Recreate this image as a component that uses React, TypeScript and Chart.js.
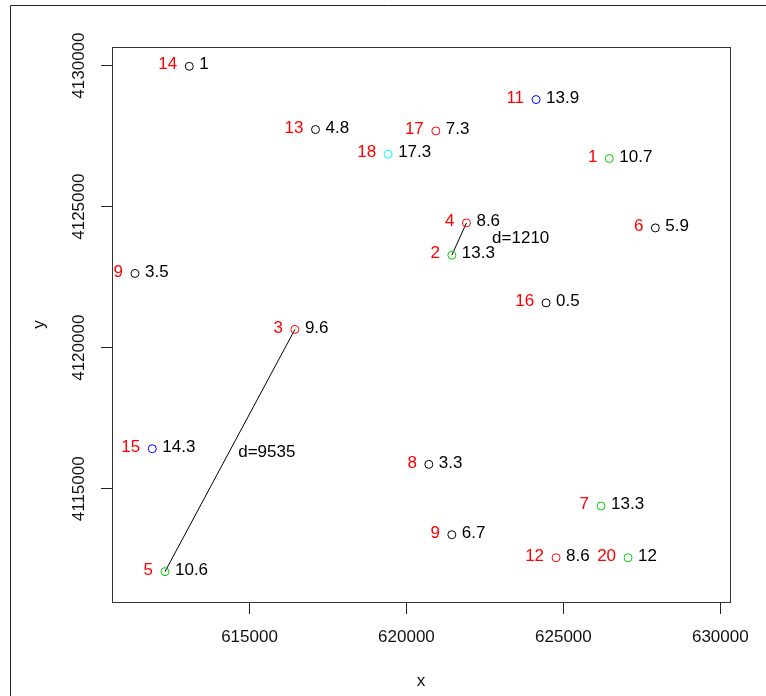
import React, { useEffect, useRef } from "react";
import { Chart, registerables } from "chart.js";

Chart.register(...registerables);

// ---- data ----
const pointIds = ["14", "13", "9", "3", "18", "11", "17", "1", "4", "2", "6", "16", "15", "5", "8", "7", "9", "12", "20"];
const pointX = [613080, 617102, 611350, 616446, 619417, 624130, 620936, 626465, 621911, 621446, 627930, 624449, 611901, 612306, 620713, 626201, 621446, 624767, 627061];
const pointY = [4129975, 4127733, 4122632, 4120648, 4126858, 4128796, 4127683, 4126706, 4124424, 4123280, 4124247, 4121590, 4116419, 4112062, 4115866, 4114389, 4113372, 4112557, 4112557];
const pointValues = [1, 4.8, 3.5, 9.6, 17.3, 13.9, 7.3, 10.7, 8.6, 13.3, 5.9, 0.5, 14.3, 10.6, 3.3, 13.3, 6.7, 8.6, 12];
const pointGroup = [1, 1, 1, 2, 5, 4, 2, 3, 2, 3, 1, 1, 4, 3, 1, 3, 1, 2, 3];

// segments between points (indices into the arrays above)
const segmentFrom = [8, 3];
const segmentTo = [9, 13];
const segmentLabels = ["d=1210", "d=9535"];
const segmentLabelX = [622729, 614640];
const segmentLabelY = [4123882, 4116291];

const xTicks = [615000, 620000, 625000, 630000];
const yTicks = [4115000, 4120000, 4125000, 4130000];
const xRange = [610618, 630309];
const yRange = [4110987, 4130659];

const palette: Record<number, string> = {
  1: "#000000",
  2: "#FF0000",
  3: "#00CD00",
  4: "#0000FF",
  5: "#00FFFF",
};

const FONT = '17px "Liberation Sans", Arial, sans-serif';

export default function App() {
  const ref = useRef<HTMLCanvasElement | null>(null);

  useEffect(() => {
    if (!ref.current) return;

    const labelPlugin = {
      id: "rlabels",
      afterDraw(chart: any) {
        const ctx = chart.ctx as CanvasRenderingContext2D;
        const xs = chart.scales.x;
        const ys = chart.scales.y;
        const area = chart.chartArea;
        ctx.save();
        // outer frame
        ctx.strokeStyle = "#222";
        ctx.lineWidth = 1;
        ctx.beginPath();
        ctx.moveTo(10.5, 696);
        ctx.lineTo(10.5, 5.5);
        ctx.lineTo(766, 5.5);
        ctx.stroke();
        // plot box
        ctx.strokeStyle = "#333";
        ctx.strokeRect(Math.round(area.left) + 0.5, Math.round(area.top) + 0.5, Math.round(area.right - area.left), Math.round(area.bottom - area.top));

        ctx.font = FONT;
        // point labels
        for (let i = 0; i < pointIds.length; i++) {
          const px = xs.getPixelForValue(pointX[i]);
          const py = ys.getPixelForValue(pointY[i]);
          ctx.textBaseline = "middle";
          ctx.fillStyle = "#FF0000";
          ctx.textAlign = "right";
          ctx.fillText(pointIds[i], px - 12, py - 1.5);
          ctx.fillStyle = "#000";
          ctx.textAlign = "left";
          ctx.fillText(String(pointValues[i]), px + 10, py - 1.5);
        }
        // segment labels
        for (let i = 0; i < segmentLabels.length; i++) {
          ctx.fillStyle = "#000";
          ctx.textAlign = "left";
          ctx.textBaseline = "middle";
          ctx.fillText(segmentLabels[i], xs.getPixelForValue(segmentLabelX[i]), ys.getPixelForValue(segmentLabelY[i]));
        }
        // tick labels
        ctx.fillStyle = "#111";
        ctx.textAlign = "center";
        ctx.textBaseline = "middle";
        for (const t of xTicks) {
          ctx.fillText(String(t), xs.getPixelForValue(t), 637);
        }
        for (const t of yTicks) {
          ctx.save();
          ctx.translate(79.5, ys.getPixelForValue(t));
          ctx.rotate(-Math.PI / 2);
          ctx.fillText(String(t), 0, 0);
          ctx.restore();
        }
        // axis titles
        ctx.fillText("x", (area.left + area.right) / 2, 681);
        ctx.save();
        ctx.translate(39, (area.top + area.bottom) / 2);
        ctx.rotate(-Math.PI / 2);
        ctx.fillText("y", 0, 0);
        ctx.restore();
        ctx.restore();
      },
    };

    const pointData = pointX.map((x, i) => ({ x, y: pointY[i] }));
    const segDatasets = segmentFrom.map((a, i) => ({
      type: "scatter" as const,
      data: [
        { x: pointX[a], y: pointY[a] },
        { x: pointX[segmentTo[i]], y: pointY[segmentTo[i]] },
      ],
      showLine: true,
      borderColor: "#000",
      borderWidth: 1,
      pointRadius: 0,
      pointHoverRadius: 0,
      fill: false,
    }));

    const chart = new Chart(ref.current, {
      type: "scatter",
      data: {
        datasets: [
          {
            data: pointData,
            pointStyle: "circle",
            pointRadius: 4,
            pointBorderWidth: 1,
            pointBackgroundColor: "rgba(0,0,0,0)",
            pointBorderColor: pointGroup.map((g) => palette[g]),
            borderColor: pointGroup.map((g) => palette[g]),
            backgroundColor: "rgba(0,0,0,0)",
          } as any,
          ...segDatasets,
        ],
      },
      options: {
        animation: false,
        responsive: false,
        devicePixelRatio: 1,
        layout: { padding: { left: 0, top: 47, right: 36, bottom: 0 } },
        plugins: { legend: { display: false }, tooltip: { enabled: false } },
        events: [],
        scales: {
          x: {
            type: "linear",
            min: xRange[0],
            max: xRange[1],
            afterBuildTicks: (s: any) => {
              s.ticks = xTicks.map((v) => ({ value: v }));
            },
            afterFit: (s: any) => {
              s.height = 94;
            },
            ticks: { display: false },
            border: { display: false },
            grid: { display: true, drawOnChartArea: false, drawTicks: true, tickLength: 12, color: "#222", lineWidth: 1 },
          },
          y: {
            type: "linear",
            min: yRange[0],
            max: yRange[1],
            afterBuildTicks: (s: any) => {
              s.ticks = yTicks.map((v) => ({ value: v }));
            },
            afterFit: (s: any) => {
              s.width = 112;
            },
            ticks: { display: false },
            border: { display: false },
            grid: { display: true, drawOnChartArea: false, drawTicks: true, tickLength: 11, color: "#222", lineWidth: 1 },
          },
        },
      },
      plugins: [labelPlugin],
    } as any);

    return () => chart.destroy();
  }, []);

  return (
    <div style={{ position: "fixed", left: 0, top: 0, width: 766, height: 696, background: "#fff" }}>
      <canvas ref={ref} width={766} height={696} style={{ width: 766, height: 696, display: "block" }} />
    </div>
  );
}
